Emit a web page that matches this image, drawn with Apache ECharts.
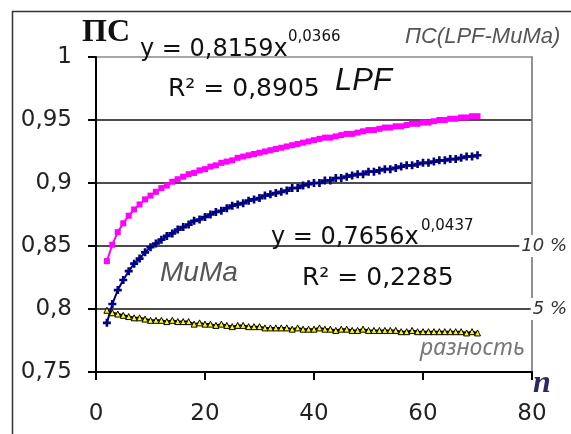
<!DOCTYPE html>
<html>
<head>
<meta charset="utf-8">
<script src="https://cdn.jsdelivr.net/npm/echarts@6/dist/echarts.min.js"></script>
<style>
  html, body { margin: 0; padding: 0; background: #fff; }
  #chart { width: 571px; height: 434px; }
</style>
</head>
<body>
<div id="chart"></div>
<script>
// Sample size n
const nValues = [2,3,4,5,6,7,8,9,10,11,12,13,14,15,16,17,18,19,20,21,22,23,24,25,26,27,28,29,30,
  31,32,33,34,35,36,37,38,39,40,41,42,43,44,45,46,47,48,49,50,51,52,53,54,55,56,57,58,59,60,
  61,62,63,64,65,66,67,68,69,70];

// ПС for the LPF method
const lpfValues = [0.838,0.851,0.861,0.868,0.874,0.879,0.883,0.887,0.890,0.893,0.896,0.898,0.901,0.903,
  0.905,0.907,0.908,0.910,0.911,0.913,0.914,0.916,0.917,0.918,0.920,0.921,0.922,0.923,0.924,
  0.925,0.926,0.927,0.928,0.929,0.930,0.931,0.932,0.933,0.934,0.935,0.936,0.936,0.937,0.938,
  0.939,0.939,0.940,0.941,0.942,0.942,0.943,0.944,0.944,0.945,0.945,0.946,0.947,0.947,0.948,
  0.948,0.949,0.950,0.950,0.951,0.951,0.952,0.952,0.953,0.953];

// ПС for the MuMa method
const mumaValues = [0.789,0.804,0.815,0.823,0.830,0.836,0.840,0.845,0.849,0.852,0.855,0.858,0.860,0.863,
  0.865,0.867,0.870,0.871,0.873,0.875,0.877,0.878,0.880,0.882,0.883,0.884,0.886,0.887,0.888,
  0.890,0.891,0.892,0.893,0.894,0.896,0.896,0.898,0.899,0.900,0.900,0.902,0.902,0.904,0.904,
  0.905,0.906,0.907,0.907,0.909,0.909,0.910,0.911,0.911,0.912,0.913,0.914,0.914,0.915,0.916,
  0.916,0.917,0.918,0.918,0.919,0.919,0.920,0.921,0.921,0.922];

// Difference ПС(LPF-MuMa), read on the right-hand scale
const diffValues = [0.049,0.047,0.046,0.045,0.044,0.043,0.043,0.042,0.041,0.041,0.041,0.040,0.041,0.040,
  0.040,0.040,0.038,0.039,0.038,0.038,0.037,0.038,0.037,0.036,0.037,0.037,0.036,0.036,0.036,
  0.035,0.035,0.035,0.035,0.035,0.034,0.035,0.034,0.034,0.034,0.035,0.034,0.034,0.033,0.034,
  0.034,0.033,0.033,0.034,0.033,0.033,0.033,0.033,0.033,0.033,0.032,0.032,0.033,0.032,0.032,
  0.032,0.032,0.032,0.032,0.032,0.032,0.032,0.031,0.032,0.031];

const yTickLabels = ['0,75', '0,8', '0,85', '0,9', '0,95', '1'];
const xTickLabels = ['0', '20', '40', '60', '80'];
const diffTickLabels = ['', '5 %', '10 %', '', '', ''];

const pairs = (vals) => nValues.map((n, i) => [n, vals[i]]);

const NUM_FONT = 'DejaVu Sans';
const chart = echarts.init(document.getElementById('chart'), null, { renderer: 'canvas' });

function label(text, x, y, opts) {
  return {
    type: 'text', x: x, y: y, z: 50,
    style: Object.assign({
      text: text, fill: '#111', fontFamily: NUM_FONT, fontSize: 24,
      align: 'left', verticalAlign: 'middle'
    }, opts || {})
  };
}

chart.setOption({
  animation: false,
  backgroundColor: '#fff',
  grid: {
    left: 96, right: 39, top: 57, bottom: 62,
    show: true, borderColor: '#8a8a8a', borderWidth: 1.5, backgroundColor: '#fff'
  },
  xAxis: {
    type: 'value', min: 0, max: 80, interval: 20,
    axisLine: { show: true, onZero: false, lineStyle: { color: '#000', width: 2 } },
    axisTick: { show: true, length: 8, lineStyle: { color: '#000', width: 2 } },
    axisLabel: {
      margin: 31, color: '#222', fontFamily: NUM_FONT, fontSize: 23,
      formatter: (v, i) => xTickLabels[i]
    },
    splitLine: { show: false }
  },
  yAxis: [{
    type: 'value', min: 0.75, max: 1, interval: 0.05,
    axisLine: { show: true, lineStyle: { color: '#000', width: 2 } },
    axisTick: { show: true, length: 8, lineStyle: { color: '#000', width: 2 } },
    axisLabel: {
      margin: 24, color: '#222', fontFamily: NUM_FONT, fontSize: 23,
      formatter: (v, i) => yTickLabels[i]
    },
    splitLine: {
      show: true, showMinLine: false, showMaxLine: false,
      lineStyle: { color: '#111', width: 1.5 }
    }
  }, {
    type: 'value', min: 0, max: 0.25, interval: 0.05, position: 'right',
    axisLine: { show: true, lineStyle: { color: '#8a8a8a', width: 1.5 } },
    axisTick: { show: false },
    splitLine: { show: false },
    axisLabel: {
      margin: 35, align: 'right', color: '#333', fontFamily: NUM_FONT,
      fontStyle: 'italic', fontSize: 18, backgroundColor: '#fff', padding: [2, 0, 2, 2],
      formatter: (v, i) => diffTickLabels[i]
    }
  }],
  series: [{
    name: 'LPF', type: 'line', data: pairs(lpfValues),
    symbol: 'rect', symbolSize: 6, showSymbol: true,
    lineStyle: { color: '#ff00ff', width: 2 },
    itemStyle: { color: '#ff00ff' }, z: 3
  }, {
    name: 'MuMa', type: 'line', data: pairs(mumaValues),
    symbol: 'path://M2,0H4V2H6V4H4V6H2V4H0V2H2Z', symbolSize: 8, showSymbol: true,
    lineStyle: { color: '#000080', width: 2 },
    itemStyle: { color: '#000080' }, z: 3
  }, {
    name: 'разность', type: 'line', yAxisIndex: 1, data: pairs(diffValues),
    symbol: 'triangle', symbolSize: 6, showSymbol: true,
    lineStyle: { color: '#000', width: 2 },
    itemStyle: { color: '#ffff00', borderColor: '#000', borderWidth: 1 }, z: 3
  }],
  graphic: [
    // outer frame
    { type: 'line', z: 40, shape: { x1: 12.5, y1: 11, x2: 12.5, y2: 434 },
      style: { stroke: '#333', lineWidth: 1.5 } },
    { type: 'line', z: 40, shape: { x1: 12, y1: 11.5, x2: 571, y2: 11.5 },
      style: { stroke: '#333', lineWidth: 1.5 } },
    label('ПС', 82, 33, { fontFamily: 'Liberation Serif', fontWeight: 'bold', fontSize: 32, fill: '#111' }),
    label('y = 0,8159x', 140, 50),
    label('0,0366', 288, 37, { fontSize: 15 }),
    label('ПС(LPF-MuMa)', 405, 37, { fontFamily: 'Liberation Sans', fontStyle: 'italic', fontSize: 22, fill: '#555' }),
    label('R² = 0,8905', 168, 89, { fontSize: 25 }),
    label('LPF', 335, 81, { fontFamily: 'Liberation Sans', fontStyle: 'italic', fontSize: 31, fill: '#111' }),
    label('y = 0,7656x', 271, 238),
    label('0,0437', 421, 226, { fontSize: 15 }),
    label('R² = 0,2285', 302, 278, { fontSize: 25 }),
    label('MuMa', 160, 273, { fontFamily: 'Liberation Sans', fontStyle: 'italic', fontSize: 28, fill: '#555' }),
    label('разность', 420, 348, { fontFamily: 'Noto Sans', fontStyle: 'italic', fontSize: 23, fill: '#777' }),
    label('n', 533, 384, { fontFamily: 'Liberation Serif', fontStyle: 'italic', fontWeight: 'bold', fontSize: 32, fill: '#2a2a60' })
  ]
});
</script>
</body>
</html>
